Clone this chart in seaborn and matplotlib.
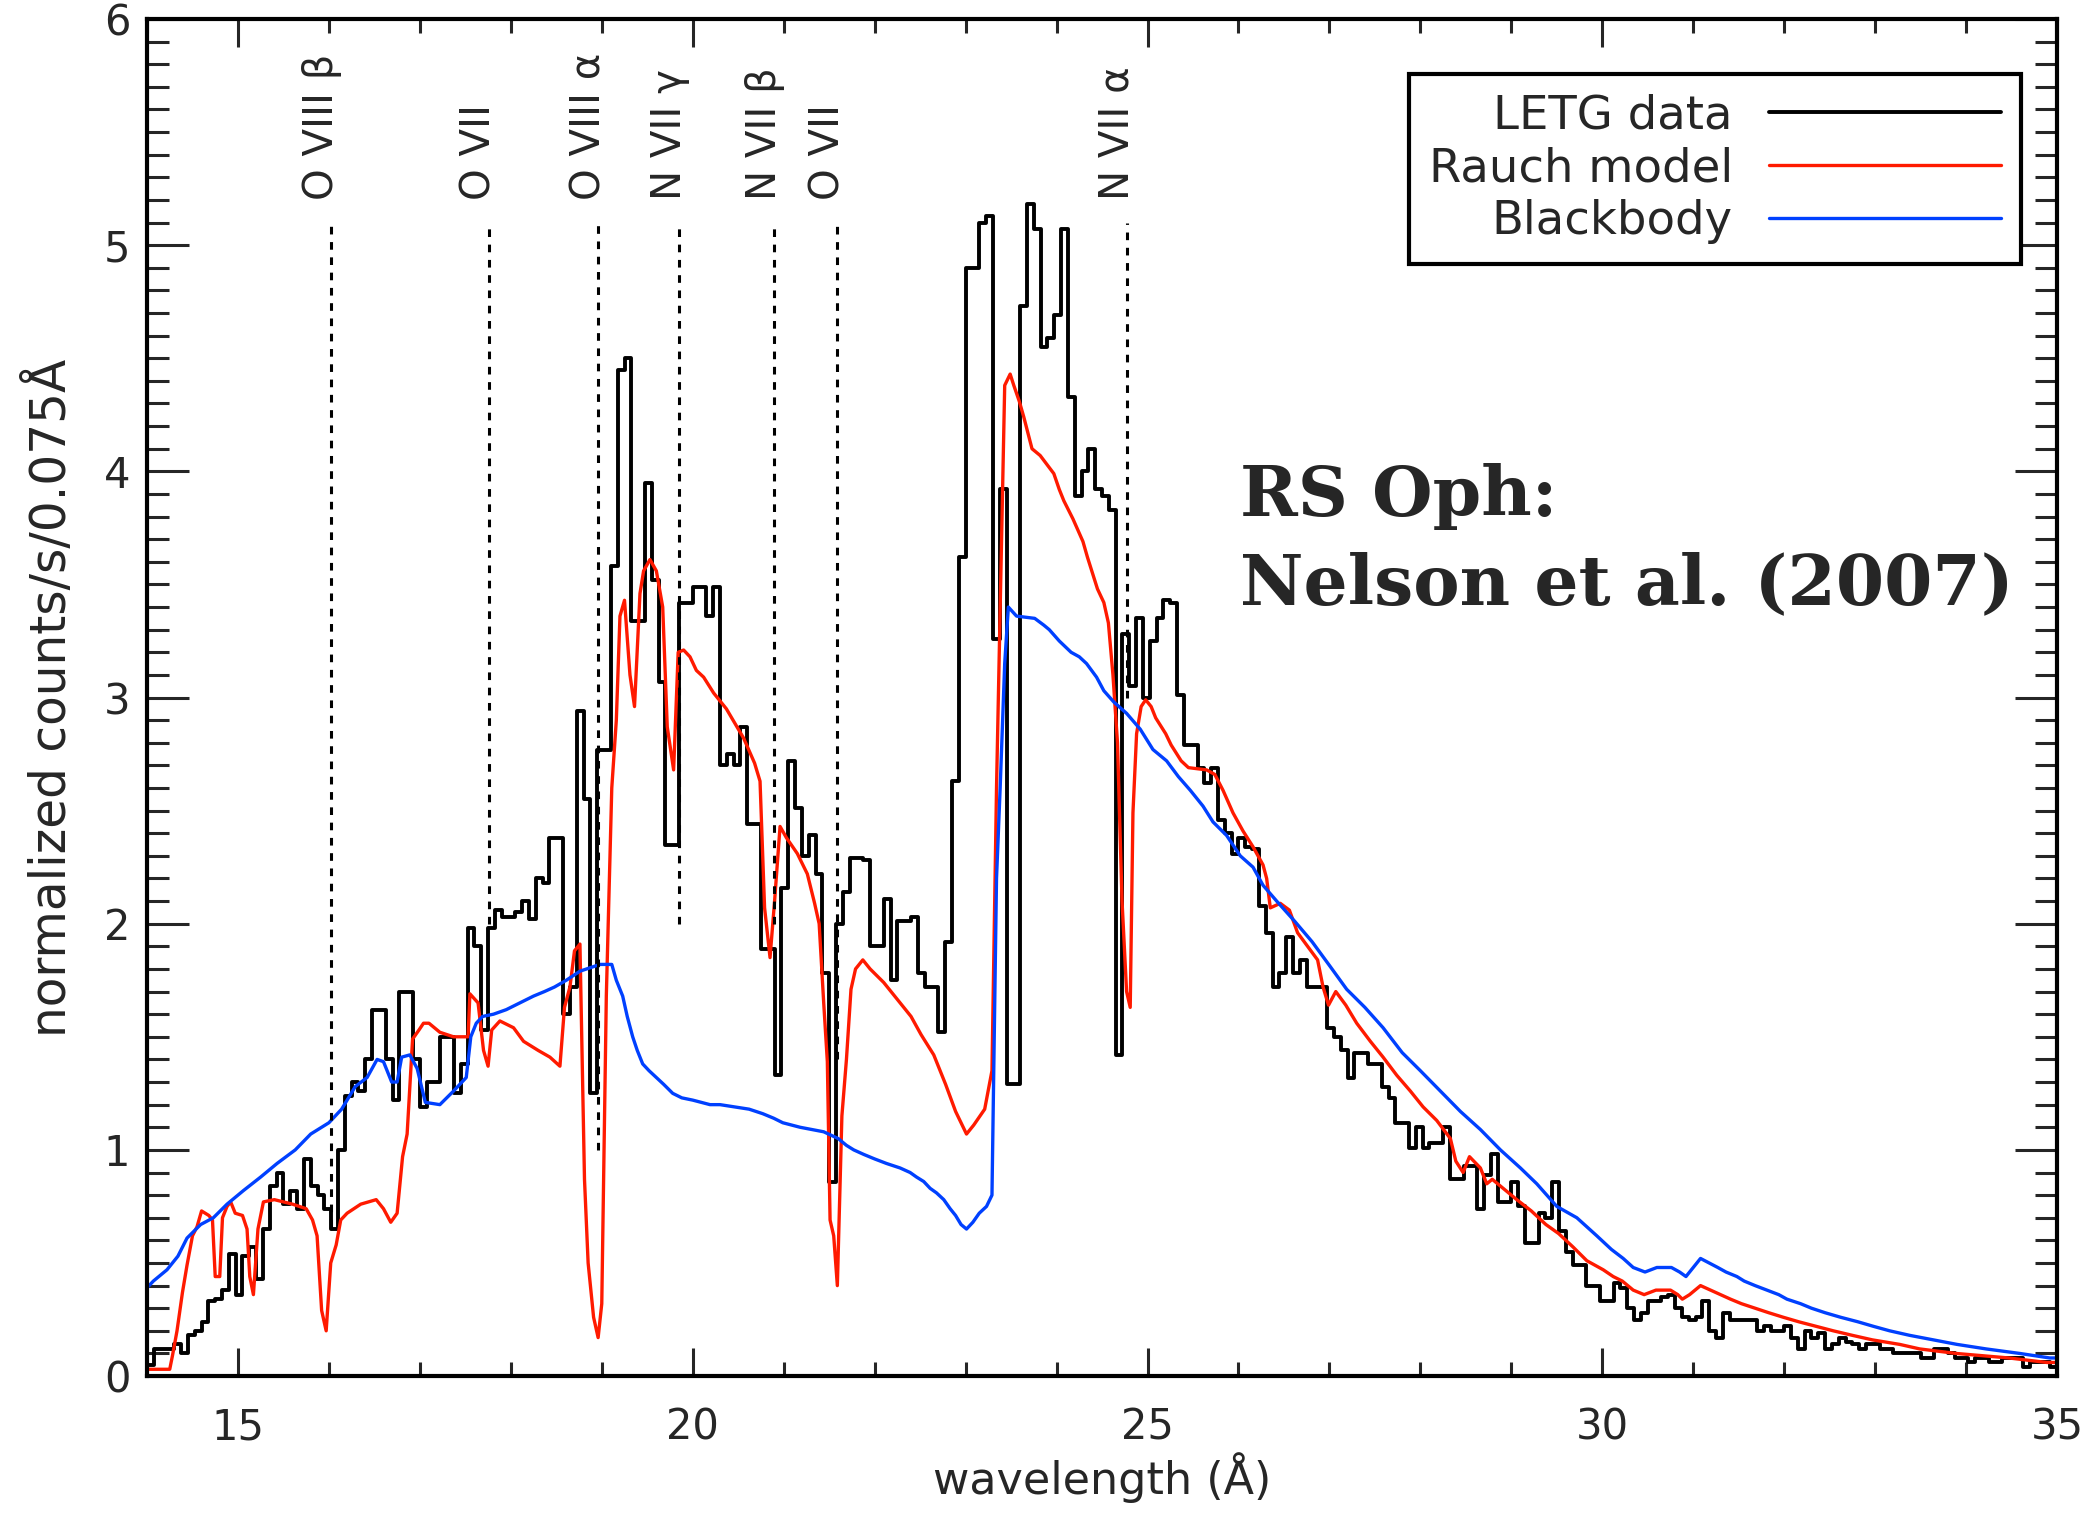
import numpy as np
import matplotlib.pyplot as plt
import seaborn as sns

# LETG spectrum, 0.075 A bins starting at 14 A
bin_start = 14.0
bin_width = 0.075
letg_counts = [
    0.05, 0.12, 0.12, 0.12, 0.14, 0.10, 0.18, 0.20, 0.24, 0.33,
    0.34, 0.38, 0.54, 0.36, 0.53, 0.57, 0.43, 0.65, 0.84, 0.90,
    0.76, 0.82, 0.74, 0.96, 0.84, 0.80, 0.74, 0.65, 1.00, 1.24,
    1.30, 1.26, 1.40, 1.62, 1.62, 1.40, 1.22, 1.70, 1.70, 1.40,
    1.19, 1.30, 1.30, 1.50, 1.50, 1.25, 1.38, 1.98, 1.90, 1.53,
    1.98, 2.06, 2.03, 2.03, 2.05, 2.10, 2.02, 2.20, 2.18, 2.38,
    2.38, 1.60, 1.72, 2.94, 2.55, 1.25, 2.77, 2.77, 3.58, 4.45,
    4.50, 3.34, 3.34, 3.95, 3.52, 3.07, 2.35, 2.35, 3.42, 3.42,
    3.49, 3.49, 3.36, 3.49, 2.70, 2.75, 2.70, 2.87, 2.44, 2.44,
    1.89, 1.89, 1.33, 2.16, 2.72, 2.51, 2.30, 2.39, 2.22, 1.78,
    0.86, 2.00, 2.14, 2.29, 2.29, 2.28, 1.90, 1.90, 2.11, 1.75,
    2.01, 2.01, 2.03, 1.78, 1.72, 1.72, 1.52, 1.92, 2.63, 3.62,
    4.90, 4.90, 5.10, 5.13, 3.26, 3.92, 1.29, 1.29, 4.73, 5.18,
    5.07, 4.55, 4.59, 4.69, 5.07, 4.33, 3.89, 4.00, 4.10, 3.92,
    3.89, 3.83, 1.42, 3.28, 3.05, 3.35, 3.00, 3.25, 3.35, 3.43,
    3.42, 3.01, 2.79, 2.79, 2.69, 2.62, 2.69, 2.46, 2.40, 2.31,
    2.38, 2.34, 2.33, 2.08, 1.96, 1.72, 1.78, 1.94, 1.78, 1.84,
    1.72, 1.72, 1.72, 1.54, 1.50, 1.44, 1.32, 1.43, 1.43, 1.38,
    1.38, 1.28, 1.23, 1.12, 1.12, 1.01, 1.10, 1.01, 1.03, 1.03,
    1.10, 0.87, 0.87, 0.93, 0.93, 0.74, 0.89, 0.98, 0.77, 0.77,
    0.86, 0.75, 0.59, 0.59, 0.72, 0.70, 0.86, 0.64, 0.55, 0.49,
    0.49, 0.40, 0.40, 0.33, 0.33, 0.41, 0.39, 0.30, 0.25, 0.28,
    0.33, 0.33, 0.35, 0.36, 0.30, 0.26, 0.25, 0.26, 0.33, 0.20,
    0.17, 0.28, 0.25, 0.25, 0.25, 0.25, 0.20, 0.22, 0.20, 0.20,
    0.22, 0.17, 0.12, 0.20, 0.17, 0.19, 0.12, 0.14, 0.17, 0.15,
    0.14, 0.12, 0.14, 0.14, 0.12, 0.12, 0.10, 0.10, 0.10, 0.10,
    0.08, 0.08, 0.12, 0.12, 0.10, 0.08, 0.08, 0.06, 0.08, 0.08,
    0.06, 0.06, 0.08, 0.08, 0.08, 0.04, 0.06, 0.06, 0.06, 0.04,
]

# Rauch model
rauch_wl = [
    14.00, 14.25, 14.28, 14.33, 14.39, 14.44, 14.50, 14.55, 14.60, 14.68,
    14.72, 14.75, 14.80, 14.83, 14.88, 14.92, 14.97, 15.05, 15.10, 15.13,
    15.17, 15.22, 15.28, 15.40, 15.60, 15.75, 15.82, 15.87, 15.92, 15.97,
    16.02, 16.08, 16.13, 16.20, 16.35, 16.52, 16.60, 16.68, 16.75, 16.81,
    16.86, 16.92, 16.99, 17.04, 17.10, 17.22, 17.37, 17.53, 17.55, 17.64,
    17.70, 17.75, 17.79, 17.88, 18.03, 18.14, 18.30, 18.43, 18.54, 18.59,
    18.65, 18.70, 18.76, 18.81, 18.85, 18.91, 18.96, 19.00, 19.05, 19.11,
    19.16, 19.20, 19.25, 19.31, 19.36, 19.42, 19.46, 19.53, 19.60, 19.67,
    19.72, 19.79, 19.84, 19.90, 19.97, 20.04, 20.12, 20.23, 20.37, 20.56,
    20.68, 20.74, 20.79, 20.85, 20.90, 20.96, 21.03, 21.15, 21.26, 21.34,
    21.39, 21.44, 21.48, 21.51, 21.55, 21.59, 21.64, 21.69, 21.74, 21.79,
    21.87, 21.95, 22.10, 22.24, 22.40, 22.51, 22.65, 22.78, 22.89, 23.01,
    23.09, 23.21, 23.29, 23.34, 23.38, 23.43, 23.49, 23.53, 23.59, 23.64,
    23.73, 23.82, 23.97, 24.03, 24.08, 24.18, 24.29, 24.34, 24.45, 24.52,
    24.57, 24.62, 24.67, 24.72, 24.77, 24.81, 24.84, 24.88, 24.93, 24.98,
    25.04, 25.09, 25.20, 25.26, 25.37, 25.45, 25.65, 25.74, 25.83, 25.94,
    26.05, 26.16, 26.27, 26.31, 26.35, 26.46, 26.56, 26.65, 26.76, 26.87,
    26.93, 26.99, 27.07, 27.18, 27.30, 27.45, 27.59, 27.74, 27.89, 28.03,
    28.18, 28.33, 28.39, 28.47, 28.54, 28.66, 28.73, 28.79, 28.91, 29.06,
    29.22, 29.38, 29.52, 29.68, 29.83, 30.01, 30.12, 30.22, 30.34, 30.46,
    30.59, 30.75, 30.83, 30.88, 30.96, 31.08, 31.19, 31.30, 31.41, 31.53,
    31.68, 31.83, 31.99, 32.16, 32.35, 32.54, 32.75, 32.97, 33.27, 33.49,
    33.89, 34.47, 34.89, 35.00,
]
rauch_flux = [
    0.03, 0.03, 0.09, 0.20, 0.37, 0.49, 0.62, 0.66, 0.73, 0.71,
    0.69, 0.44, 0.44, 0.70, 0.75, 0.77, 0.72, 0.71, 0.65, 0.44,
    0.36, 0.65, 0.77, 0.78, 0.76, 0.74, 0.69, 0.62, 0.29, 0.20,
    0.50, 0.58, 0.69, 0.72, 0.76, 0.78, 0.74, 0.68, 0.72, 0.97,
    1.07, 1.49, 1.53, 1.56, 1.56, 1.52, 1.50, 1.50, 1.69, 1.65,
    1.44, 1.37, 1.53, 1.57, 1.54, 1.48, 1.44, 1.41, 1.37, 1.63,
    1.72, 1.88, 1.91, 0.87, 0.50, 0.26, 0.17, 0.32, 1.68, 2.60,
    2.90, 3.36, 3.43, 3.10, 2.96, 3.46, 3.56, 3.61, 3.56, 3.40,
    2.87, 2.68, 3.20, 3.21, 3.18, 3.12, 3.09, 3.02, 2.95, 2.82,
    2.71, 2.63, 2.07, 1.85, 2.10, 2.43, 2.38, 2.31, 2.22, 2.09,
    2.00, 1.65, 1.39, 0.69, 0.62, 0.40, 1.15, 1.40, 1.71, 1.80,
    1.84, 1.80, 1.74, 1.67, 1.59, 1.51, 1.42, 1.29, 1.17, 1.07,
    1.11, 1.18, 1.35, 2.60, 3.40, 4.38, 4.43, 4.38, 4.31, 4.24,
    4.10, 4.07, 3.99, 3.92, 3.87, 3.79, 3.69, 3.62, 3.48, 3.42,
    3.33, 3.10, 2.80, 2.10, 1.70, 1.63, 2.49, 2.84, 2.96, 2.99,
    2.96, 2.91, 2.84, 2.79, 2.72, 2.69, 2.68, 2.66, 2.59, 2.49,
    2.41, 2.34, 2.26, 2.20, 2.07, 2.09, 2.06, 1.96, 1.90, 1.84,
    1.72, 1.64, 1.70, 1.64, 1.56, 1.48, 1.41, 1.33, 1.26, 1.19,
    1.13, 1.05, 0.95, 0.90, 0.97, 0.92, 0.85, 0.87, 0.83, 0.78,
    0.73, 0.67, 0.63, 0.57, 0.51, 0.47, 0.44, 0.42, 0.38, 0.36,
    0.38, 0.38, 0.36, 0.34, 0.36, 0.40, 0.38, 0.36, 0.34, 0.32,
    0.30, 0.28, 0.26, 0.24, 0.22, 0.20, 0.18, 0.16, 0.14, 0.12,
    0.10, 0.08, 0.06, 0.06,
]

# Blackbody
bb_wl = [
    14.00, 14.07, 14.22, 14.34, 14.44, 14.59, 14.73, 14.88, 15.06, 15.25,
    15.43, 15.63, 15.80, 16.00, 16.14, 16.29, 16.42, 16.53, 16.60, 16.69,
    16.75, 16.80, 16.89, 16.97, 17.06, 17.22, 17.37, 17.51, 17.56, 17.62,
    17.69, 17.81, 17.95, 18.10, 18.25, 18.37, 18.48, 18.61, 18.76, 18.98,
    19.11, 19.16, 19.23, 19.28, 19.34, 19.39, 19.45, 19.52, 19.60, 19.68,
    19.78, 19.88, 20.00, 20.19, 20.30, 20.62, 20.77, 20.89, 20.99, 21.18,
    21.44, 21.60, 21.69, 21.77, 21.88, 22.00, 22.13, 22.28, 22.39, 22.46,
    22.54, 22.61, 22.68, 22.76, 22.83, 22.89, 22.95, 23.01, 23.08, 23.15,
    23.23, 23.29, 23.34, 23.38, 23.43, 23.47, 23.56, 23.76, 23.86, 23.92,
    24.03, 24.16, 24.25, 24.33, 24.44, 24.52, 24.63, 24.77, 24.92, 25.06,
    25.21, 25.34, 25.47, 25.61, 25.72, 25.87, 26.02, 26.16, 26.27, 26.42,
    26.62, 26.81, 27.01, 27.19, 27.39, 27.59, 27.80, 28.00, 28.22, 28.44,
    28.66, 28.88, 29.10, 29.28, 29.50, 29.72, 29.94, 30.10, 30.23, 30.34,
    30.47, 30.60, 30.76, 30.85, 30.92, 31.08, 31.27, 31.36, 31.48, 31.56,
    31.68, 31.81, 31.94, 32.03, 32.18, 32.30, 32.45, 32.62, 32.81, 32.98,
    33.16, 33.38, 33.64, 33.90, 34.22, 34.59, 34.92, 35.00,
]
bb_flux = [
    0.39, 0.42, 0.47, 0.53, 0.61, 0.67, 0.70, 0.76, 0.82, 0.88,
    0.94, 1.00, 1.07, 1.12, 1.18, 1.28, 1.32, 1.40, 1.39, 1.30,
    1.30, 1.41, 1.42, 1.36, 1.21, 1.20, 1.26, 1.32, 1.50, 1.56,
    1.59, 1.60, 1.62, 1.65, 1.68, 1.70, 1.72, 1.75, 1.79, 1.82,
    1.82, 1.75, 1.68, 1.59, 1.50, 1.44, 1.38, 1.35, 1.32, 1.29,
    1.25, 1.23, 1.22, 1.20, 1.20, 1.18, 1.16, 1.14, 1.12, 1.10,
    1.08, 1.05, 1.02, 1.00, 0.98, 0.96, 0.94, 0.92, 0.90, 0.88,
    0.86, 0.83, 0.81, 0.78, 0.74, 0.71, 0.67, 0.65, 0.68, 0.72,
    0.75, 0.80, 2.20, 2.60, 3.15, 3.40, 3.36, 3.35, 3.32, 3.30,
    3.25, 3.20, 3.18, 3.15, 3.09, 3.03, 2.98, 2.93, 2.86, 2.77,
    2.72, 2.65, 2.59, 2.52, 2.45, 2.39, 2.30, 2.25, 2.17, 2.10,
    2.01, 1.92, 1.81, 1.71, 1.63, 1.54, 1.43, 1.35, 1.26, 1.17,
    1.09, 1.00, 0.92, 0.85, 0.75, 0.70, 0.62, 0.56, 0.52, 0.48,
    0.46, 0.48, 0.48, 0.46, 0.44, 0.52, 0.48, 0.46, 0.44, 0.42,
    0.40, 0.38, 0.36, 0.34, 0.32, 0.30, 0.28, 0.26, 0.24, 0.22,
    0.20, 0.18, 0.16, 0.14, 0.12, 0.10, 0.08, 0.08,
]

# line identifications
line_names = ["O VIII β", "O VII", "O VIII α", "N VII γ", "N VII β", "O VII", "N VII α"]
line_wl = [16.02, 17.76, 18.96, 19.85, 20.89, 21.59, 24.77]
line_bottom = [0.66, 2.0, 1.0, 2.0, 2.0, 1.4, 3.0]
line_top = 5.1

sns.set_style("ticks")
plt.rcParams["font.family"] = ["DejaVu Sans"]

fig = plt.figure(figsize=(20.85, 15.19), dpi=100)
ax = fig.add_axes([0.0705, 0.0941, 0.9161, 0.8934])

# step histogram of the data
edges = bin_start + bin_width * np.arange(len(letg_counts) + 1)
counts = np.append(letg_counts, letg_counts[-1])
sns.lineplot(x=edges, y=counts, drawstyle="steps-post", estimator=None,
             color="black", lw=2.8, label="LETG data", ax=ax)
sns.lineplot(x=rauch_wl, y=rauch_flux, estimator=None, color="#ff1a00",
             lw=2.4, label="Rauch model", ax=ax)
sns.lineplot(x=bb_wl, y=bb_flux, estimator=None, color="#0040ff",
             lw=2.4, label="Blackbody", ax=ax)

ax.vlines(line_wl, line_bottom, line_top, colors="black", lw=2.2,
          linestyles=(0, (2.5, 2.5)))
for name, wl in zip(line_names, line_wl):
    ax.text(wl - 0.1, 5.2, name, rotation=90, ha="center", va="bottom", fontsize=29)

ax.text(26.02, 3.89, "RS Oph:", fontsize=50, fontweight="bold", family="DejaVu Serif",
        ha="left", va="center")
ax.text(26.02, 3.50, "Nelson et al. (2007)", fontsize=50, fontweight="bold",
        family="DejaVu Serif", ha="left", va="center")

ax.set_xlim(14, 35)
ax.set_ylim(0, 6)
ax.set_xticks([15, 20, 25, 30, 35])
ax.set_xticks(np.arange(14, 35.01, 1), minor=True)
ax.set_yticks(range(7))
ax.set_yticks(np.arange(0, 6.01, 0.1), minor=True)

for side in ["left", "right", "top", "bottom"]:
    ax.spines[side].set_visible(True)
    ax.spines[side].set_linewidth(3)
    ax.spines[side].set_color("black")

ax.tick_params(axis="x", which="major", direction="in", length=20, width=2.2,
               top=True, bottom=True, labelsize=30, pad=22)
ax.tick_params(axis="x", which="minor", direction="in", length=10, width=2.2,
               top=True, bottom=True)
ax.tick_params(axis="y", which="major", direction="in", length=30, width=2.2,
               left=True, right=True, labelsize=30, pad=12)
ax.tick_params(axis="y", which="minor", direction="in", length=16, width=2.2,
               left=True, right=True)

ax.set_xlabel("wavelength (Å)", fontsize=32)
ax.set_ylabel("normalized counts/s/0.075Å", fontsize=35)
ax.xaxis.set_label_coords(0.5, -0.056)
ax.yaxis.set_label_coords(-0.037, 0.5)

leg = ax.legend(loc="upper right", bbox_to_anchor=(0.981, 0.9595), borderaxespad=0,
                markerfirst=False, fontsize=33.5, handlelength=5.0, handletextpad=0.77,
                labelspacing=0.17, borderpad=0.42, fancybox=False, framealpha=1)
leg.get_frame().set_edgecolor("black")
leg.get_frame().set_linewidth(3)

fig.savefig("out.png", dpi=100)
